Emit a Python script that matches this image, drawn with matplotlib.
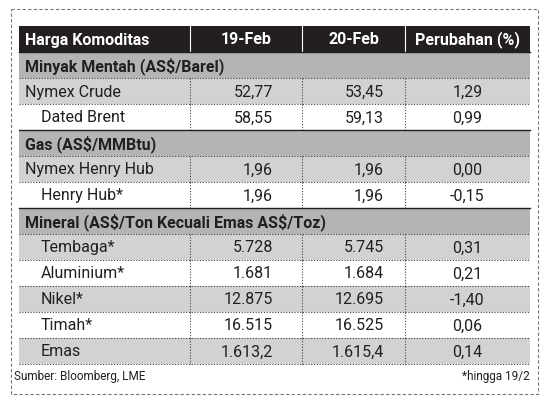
import matplotlib
matplotlib.use("Agg")
import matplotlib.pyplot as plt
from matplotlib.patches import Rectangle

plt.rcParams['font.family'] = ['Roboto', 'DejaVu Sans']
plt.rcParams['text.parse_math'] = False

header = ["Harga Komoditas", "19-Feb", "20-Feb", "Perubahan (%)"]
# (label, 19-Feb, 20-Feb, perubahan) ; None = section row
rows = [
    ("Minyak Mentah (AS$/Barel)", None, None, None),
    ("Nymex Crude", "52,77", "53,45", "1,29"),
    ("Dated Brent", "58,55", "59,13", "0,99"),
    ("Gas (AS$/MMBtu)", None, None, None),
    ("Nymex Henry Hub", "1,96", "1,96", "0,00"),
    ("Henry Hub*", "1,96", "1,96", "-0,15"),
    ("Mineral (AS$/Ton Kecuali Emas AS$/Toz)", None, None, None),
    ("Tembaga*", "5.728", "5.745", "0,31"),
    ("Aluminium*", "1.681", "1.684", "0,21"),
    ("Nikel*", "12.875", "12.695", "-1,40"),
    ("Timah*", "16.515", "16.525", "0,06"),
    ("Emas", "1.613,2", "1.615,4", "0,14"),
]
indent = {"Dated Brent", "Henry Hub*", "Tembaga*", "Aluminium*", "Nikel*", "Timah*", "Emas"}
shaded = {"Nymex Crude", "Nymex Henry Hub", "Tembaga*", "Nikel*", "Emas"}

W, H = 546, 406
fig = plt.figure(figsize=(W / 100, H / 100), dpi=100)
ax = fig.add_axes([0, 0, 1, 1])
ax.set_xlim(0, W)
ax.set_ylim(H, 0)
ax.axis('off')

cols = [19, 190, 302, 405, 530]
top, rh = 27, 26
fs = 11.5

# outer dashed frame
ax.add_patch(Rectangle((11, 10), 527, 385, fill=False, ec='#777777', lw=0.8, ls=(0, (3, 2))))

# header
ax.add_patch(Rectangle((cols[0], top), cols[-1] - cols[0], rh, fc='#231f20', ec='none'))
for i in range(1, 4):
    ax.plot([cols[i], cols[i]], [top, top + rh], color='white', lw=0.8)
ax.text(cols[0] + 6, top + rh / 2, header[0], color='white', weight='bold', fontsize=fs, va='center')
for i in range(1, 4):
    ax.text((cols[i] + cols[i + 1]) / 2, top + rh / 2, header[i], color='white', weight='bold',
            fontsize=fs, va='center', ha='center')

y = top + rh
for label, a, b, c in rows:
    if a is None:
        ax.add_patch(Rectangle((cols[0], y), cols[-1] - cols[0], rh, fc='#b3b4b6', ec='none'))
        ax.plot([cols[0], cols[-1]], [y, y], color='#231f20', lw=1)
        ax.text(cols[0] + 6, y + rh / 2, label, fontsize=fs, weight='bold', va='center', color='#231f20')
    else:
        fc = '#d1d2d4' if label in shaded else 'white'
        ax.add_patch(Rectangle((cols[0], y), cols[-1] - cols[0], rh, fc=fc, ec='none'))
        ax.plot([cols[0], cols[-1]], [y, y], color='#444444', lw=0.8, ls=(0, (1, 1.5)))
        for i in range(1, 4):
            ax.plot([cols[i], cols[i]], [y, y + rh], color='#444444', lw=0.8, ls=(0, (1, 1.5)))
        x0 = cols[0] + (22 if label in indent else 6)
        ax.text(x0, y + rh / 2, label, fontsize=fs, va='center', color='#231f20')
        ax.text(cols[2] - 29, y + rh / 2, a, fontsize=fs, va='center', ha='right', color='#231f20')
        ax.text(cols[3] - 21, y + rh / 2, b, fontsize=fs, va='center', ha='right', color='#231f20')
        ax.text((cols[3] + cols[4]) / 2, y + rh / 2, c, fontsize=fs, va='center', ha='center', color='#231f20')
    y += rh
ax.plot([cols[0], cols[-1]], [y, y], color='#444444', lw=0.8, ls=(0, (1, 1.5)))

ax.text(14, y + 12, "Sumber: Bloomberg, LME", fontsize=8.5, va='center', color='#231f20')
ax.text(cols[-1], y + 12, "*hingga 19/2", fontsize=8.5, va='center', ha='right', color='#231f20')

fig.savefig("out.png", dpi=100)
